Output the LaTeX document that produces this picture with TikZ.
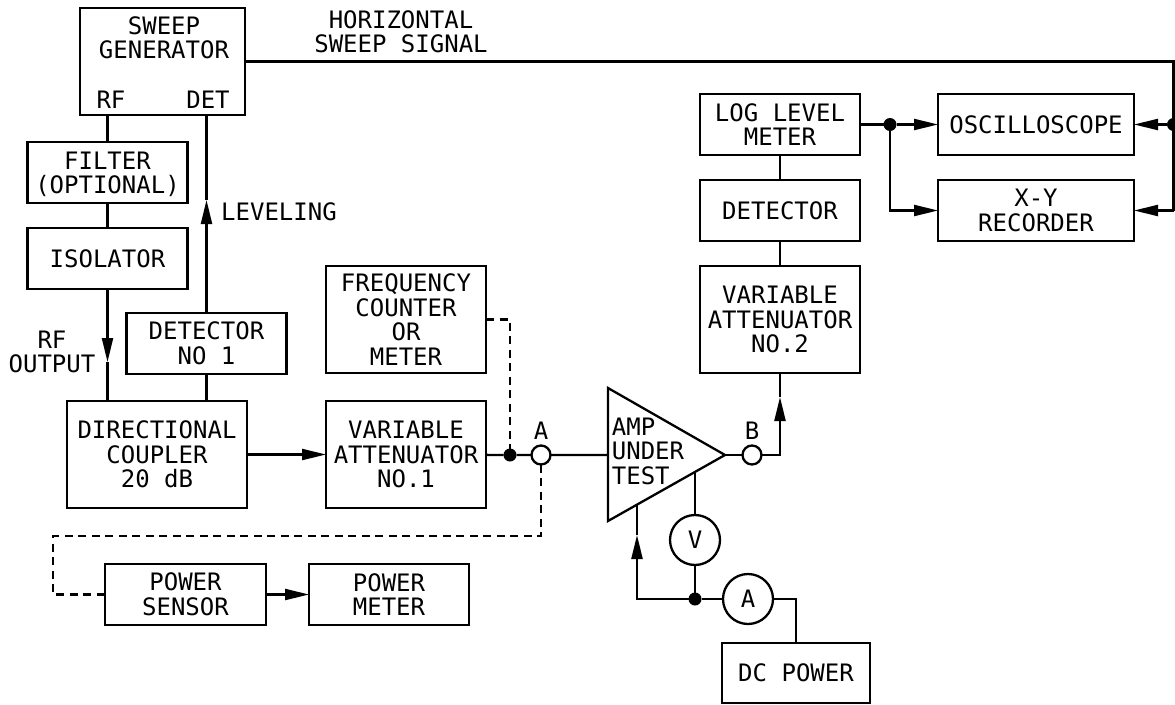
\documentclass[tikz,border=0pt]{standalone}
\usepackage{fontspec}
\setmainfont{DejaVu Sans Mono}
\usetikzlibrary{arrows.meta,positioning}
\tikzset{
  blockbox/.style={draw, inner sep=0pt, outer sep=0pt, align=center, minimum width=160pt, minimum height=61pt},
  tallbox/.style={blockbox, minimum height=107pt},
  opendot/.style={draw, circle, fill=white, inner sep=0pt, outer sep=0pt, minimum size=19pt},
  meter/.style={draw, circle, inner sep=0pt, outer sep=0pt, minimum size=50pt},
  joint/.style={circle, fill=black, inner sep=0pt, outer sep=0pt, minimum size=13pt},
  tag/.style={inner sep=0pt, align=center},
  sigline/.style={dash pattern=on 8pt off 5.5pt}
}
\begin{document}
\begin{tikzpicture}[x=1pt, y=-1pt, line width=2.3pt, >={Triangle[length=24pt, width=11pt]}, every node/.style={font=\fontsize{24}{24.5}\selectfont}]
\useasboundingbox (0,0) rectangle (1175,704);
% source side
\node[blockbox, minimum width=165pt, minimum height=107pt] (sweep) at (162.5,61.5) {};
\node[tag] (sweeptxt) at (164,38) {SWEEP\\GENERATOR};
\node[tag] (rftxt) at (111,100) {RF};
\node[tag] (dettxt) at (208,100) {DET};
\node[blockbox, text depth=0pt] (filter) at (107.5,172.5) {FILTER\\(OPTIONAL)};
\node[blockbox, below=25pt of filter] (isolator) {ISOLATOR};
\node[blockbox] (detone) at (206.5,343.5) {DETECTOR\\NO 1};
\node[tallbox, minimum width=180pt] (coupler) at (157,454.5) {DIRECTIONAL\\COUPLER\\20 dB};
\node[tallbox, right=79pt of coupler] (attone) {VARIABLE\\ATTENUATOR\\NO.1};
\node[tallbox, above=28pt of attone] (counter) {FREQUENCY\\COUNTER\\OR\\METER};
\node[tag] (lvltxt) at (279,212) {LEVELING};
\node[tag] (rfout) at (52,352) {RF\\OUTPUT};
\node[tag] (hsweep) at (401,32) {HORIZONTAL\\SWEEP SIGNAL};
% power measurement
\node[blockbox, minimum width=161pt] (sensor) at (185.5,594.5) {POWER\\SENSOR};
\node[blockbox, right=43pt of sensor] (pwrmeter) {POWER\\METER};
% amplifier
\coordinate (amptop) at (608,388);
\coordinate (amptip) at (725,455);
\coordinate (ampbot) at (608,521);
\coordinate (ampin) at (608,455);
\coordinate (ampv) at (695,472);
\coordinate (ampdc) at (637,505);
\draw (amptop) -- (amptip) -- (ampbot) -- cycle;
\node[tag, align=left] (amptxt) at (648,451) {AMP\\UNDER\\TEST};
\node[joint] (inj) at (510,455) {};
\node[opendot] (pta) at (541,455) {};
\node[tag, above=5pt of pta] (ptatxt) {A};
\node[opendot] (ptb) at (752,455) {};
\node[tag, above=5pt of ptb] (ptbtxt) {B};
\node[meter] (vmeter) at (695,540) {V};
\node[meter] (ameter) at (748,599) {A};
\node[joint] (sup) at (695,599) {};
\node[blockbox, minimum width=148pt, minimum height=60pt] (dc) at (796,673) {DC POWER};
% output side
\node[blockbox] (logmeter) at (780,124.5) {LOG LEVEL\\METER};
\node[blockbox, below=25pt of logmeter] (dettwo) {DETECTOR};
\node[tallbox, below=25pt of dettwo] (atttwo) {VARIABLE\\ATTENUATOR\\NO.2};
\node[blockbox, minimum width=196pt, right=78pt of logmeter] (scope) {OSCILLOSCOPE};
\node[blockbox, minimum width=196pt, right=78pt of dettwo] (xy) {X-Y\\RECORDER};
\node[joint] (split) at (890,124.5) {};
\node[joint] (sweepdot) at (1173.5,124.5) {};
\coordinate (turn) at (1173.5,61.5);
\coordinate (xyturn) at (1173.5,210.5);
\coordinate (rftip) at (107.5,362);
\coordinate (lvltip) at (206.5,200);
\coordinate (btip) at (780,397);
\coordinate (dctip) at (637,535);
\coordinate (lowturn) at (53,536);
% connectors
\draw (sweep.south -| filter.north) -- (filter.north);
\draw (filter) -- (isolator);
\draw[->] (isolator.south) -- (rftip);
\draw (rftip) -- (isolator.south |- coupler.north);
\draw (detone) -- (detone.south |- coupler.north);
\draw[->] (detone.north) -- (lvltip);
\draw (lvltip) -- (detone.north |- sweep.south);
\draw[->] (coupler) -- (attone);
\draw (attone) -- (inj) -- (pta) -- (ampin);
\draw (amptip) -- (ptb);
\draw[->] (ptb.east) -| (btip);
\draw (btip) -- (atttwo.south);
\draw (ampv) -- (vmeter.north);
\draw (vmeter.south) -- (sup);
\draw (sup) -- (ameter);
\draw (ameter.east) -| (dc.north);
\draw[->] (sup) -| (dctip);
\draw (dctip) -- (ampdc);
\draw (logmeter) -- (dettwo);
\draw (dettwo) -- (atttwo);
\draw (logmeter) -- (split);
\draw[->] (split) -- (scope);
\draw[->] (split) |- (xy);
\draw (sweep.east) -- (turn) -- (xyturn);
\draw[->] (xyturn) -- (xy);
\draw[->] (sweepdot) -- (scope);
\draw[sigline] (counter.east) -| (inj);
\draw[sigline] (pta.south) |- (lowturn) |- (sensor.west);
\draw[->] (sensor) -- (pwrmeter);
\end{tikzpicture}
\end{document}
